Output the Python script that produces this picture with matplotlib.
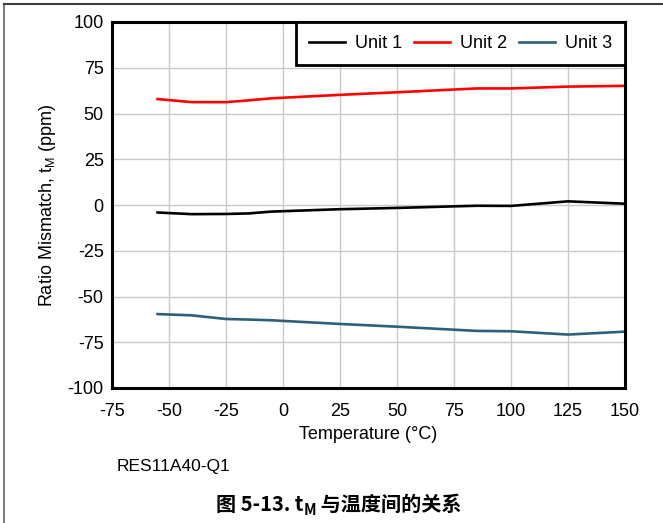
import matplotlib
matplotlib.use("Agg")
import matplotlib.pyplot as plt
from matplotlib.lines import Line2D

plt.rcParams['font.family'] = ['Liberation Sans', 'DejaVu Sans']

temps = [-55, -40, -25, -15, -5, 25, 50, 85, 100, 125, 150]
unit1 = [-4.1, -5.0, -4.9, -4.6, -3.6, -2.3, -1.6, -0.4, -0.5, 2.0, 0.7]
unit2 = [57.9, 56.2, 56.2, 57.2, 58.3, 60.2, 61.6, 63.7, 63.7, 64.7, 65.1]
unit3 = [-59.6, -60.3, -62.3, -62.6, -63.0, -65.0, -66.5, -68.8, -69.0, -70.8, -69.2]
series_names = ["Unit 1", "Unit 2", "Unit 3"]
colors = ["#000000", "#ff0000", "#2f6079"]
xticks = [-75, -50, -25, 0, 25, 50, 75, 100, 125, 150]
yticks = [-100, -75, -50, -25, 0, 25, 50, 75, 100]

fig = plt.figure(figsize=(6.63, 5.23), dpi=100)
ax = fig.add_axes([112/663, 1-388/523, (625-112)/663, (388-22)/523])

for vals, name, c in zip([unit1, unit2, unit3], series_names, colors):
    ax.plot(temps, vals, color=c, lw=1.9, label=name, solid_joinstyle='round')

ax.set_xlim(-75, 150)
ax.set_ylim(-100, 100)
ax.set_xticks(xticks)
ax.set_yticks(yticks)
ax.set_xticklabels([str(t) for t in xticks])
ax.set_yticklabels([str(t) for t in yticks])
ax.tick_params(length=0, labelsize=13, colors='black')
ax.tick_params(axis='x', pad=11)
ax.tick_params(axis='y', pad=6)
ax.grid(True, color='#c8c8c8', lw=1)
ax.set_axisbelow(True)
for s in ax.spines.values():
    s.set_linewidth(2.2)
    s.set_color('black')

ax.set_xlabel("Temperature (°C)", fontsize=13, labelpad=4)
ax.set_ylabel(r"Ratio Mismatch, t$_\mathregular{M}$ (ppm)", fontsize=13, labelpad=7)

leg = ax.legend(loc='upper right', ncol=3, fontsize=13, frameon=True, fancybox=False,
                borderaxespad=0, handlelength=2.0, handletextpad=0.55, columnspacing=0.65,
                borderpad=0.72)
leg.get_frame().set_edgecolor('black')
leg.get_frame().set_linewidth(2.0)
leg.get_frame().set_alpha(1)

fig.text(117/663, 1-466/523, "RES11A40-Q1", fontsize=12.5, va='center', ha='left')

# caption with subscript
cap_fam = ['Noto Sans CJK SC', 'DejaVu Sans']
t1 = fig.text(0.5, 0.05, "图 5-13. t", fontsize=14.5, fontweight='bold',
              family=cap_fam, va='baseline', ha='left')
t2 = fig.text(0.5, 0.05, "M", fontsize=10.5, fontweight='bold',
              family=cap_fam, va='baseline', ha='left')
t3 = fig.text(0.5, 0.05, " 与温度间的关系", fontsize=14.5, fontweight='bold',
              family=cap_fam, va='baseline', ha='left')
fig.canvas.draw()
r = fig.canvas.get_renderer()
w1 = t1.get_window_extent(r).width
w2 = t2.get_window_extent(r).width
w3 = t3.get_window_extent(r).width
total = w1 + w2 + w3
x0 = 339 - total / 2
base = 1 - 511/523
t1.set_position((x0/663, base))
t2.set_position(((x0 + w1)/663, base - 4/523))
t3.set_position(((x0 + w1 + w2)/663, base))

# outer frame lines
fig.add_artist(Line2D([4/663, 4/663], [0, 1-4/523], color='#808080', lw=1.5, transform=fig.transFigure))
fig.add_artist(Line2D([4/663, 1], [1-4/523, 1-4/523], color='#404040', lw=1.5, transform=fig.transFigure))

fig.savefig("out.png", dpi=100)
